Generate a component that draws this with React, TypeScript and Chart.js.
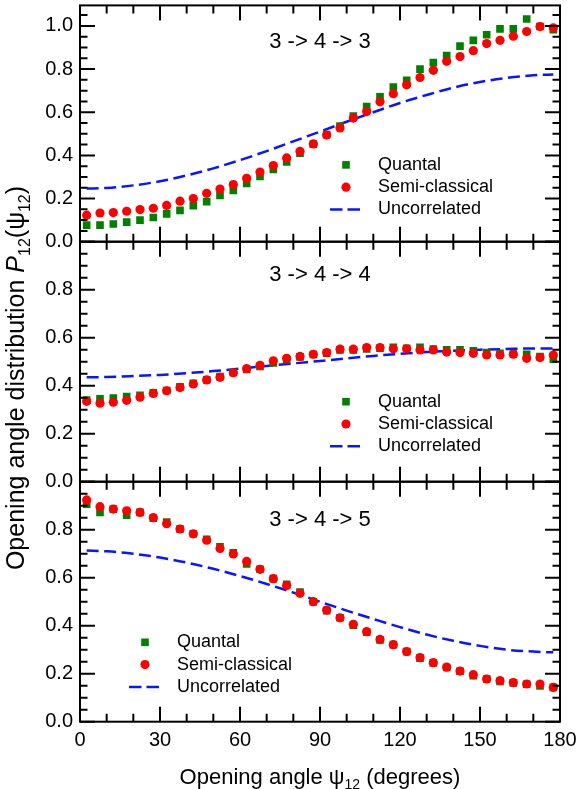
import React, { useEffect, useRef } from "react";
import { Chart, registerables } from "chart.js";

Chart.register(...registerables);

const FONT = "'Liberation Sans', Arial, Helvetica, sans-serif";

// ---------- data ----------
const angles = [
  2.5, 7.5, 12.5, 17.5, 22.5, 27.5, 32.5, 37.5, 42.5, 47.5, 52.5, 57.5,
  62.5, 67.5, 72.5, 77.5, 82.5, 87.5, 92.5, 97.5, 102.5, 107.5, 112.5, 117.5,
  122.5, 127.5, 132.5, 137.5, 142.5, 147.5, 152.5, 157.5, 162.5, 167.5, 172.5, 177.5,
];

const quantal343 = [
  0.077, 0.077, 0.082, 0.091, 0.1, 0.112, 0.129, 0.145, 0.167, 0.186, 0.214, 0.238,
  0.27, 0.302, 0.335, 0.37, 0.41, 0.452, 0.497, 0.536, 0.582, 0.626, 0.671, 0.717,
  0.748, 0.8, 0.83, 0.862, 0.906, 0.933, 0.959, 0.986, 0.986, 1.032, 0.997, 0.982,
];
const semi343 = [
  0.123, 0.133, 0.135, 0.141, 0.149, 0.155, 0.168, 0.188, 0.2, 0.224, 0.244, 0.265,
  0.294, 0.323, 0.353, 0.388, 0.419, 0.453, 0.494, 0.527, 0.573, 0.603, 0.648, 0.686,
  0.727, 0.761, 0.794, 0.836, 0.858, 0.885, 0.918, 0.933, 0.952, 0.974, 0.997, 0.991,
];

const quantal344 = [
  0.34, 0.345, 0.348, 0.355, 0.36, 0.37, 0.38, 0.395, 0.41, 0.425, 0.438, 0.455,
  0.468, 0.48, 0.495, 0.508, 0.52, 0.53, 0.536, 0.549, 0.549, 0.553, 0.556, 0.56,
  0.556, 0.56, 0.553, 0.549, 0.549, 0.545, 0.538, 0.535, 0.532, 0.531, 0.521, 0.511,
];
const semi344 = [
  0.335, 0.327, 0.331, 0.339, 0.352, 0.368, 0.379, 0.392, 0.407, 0.424, 0.435, 0.454,
  0.471, 0.485, 0.504, 0.514, 0.522, 0.531, 0.538, 0.552, 0.552, 0.559, 0.559, 0.554,
  0.554, 0.549, 0.549, 0.54, 0.538, 0.535, 0.528, 0.528, 0.531, 0.514, 0.517, 0.528,
];

const quantal345 = [
  0.906, 0.872, 0.886, 0.86, 0.872, 0.848, 0.832, 0.803, 0.783, 0.76, 0.729, 0.704,
  0.657, 0.635, 0.596, 0.572, 0.54, 0.5, 0.463, 0.433, 0.402, 0.373, 0.341, 0.321,
  0.292, 0.265, 0.245, 0.226, 0.21, 0.192, 0.178, 0.168, 0.162, 0.156, 0.149, 0.143,
];
const semi345 = [
  0.924, 0.896, 0.886, 0.879, 0.872, 0.85, 0.825, 0.803, 0.783, 0.756, 0.722, 0.699,
  0.668, 0.635, 0.596, 0.568, 0.535, 0.5, 0.465, 0.433, 0.406, 0.375, 0.343, 0.321,
  0.292, 0.267, 0.246, 0.227, 0.211, 0.196, 0.178, 0.171, 0.163, 0.157, 0.157, 0.143,
];

const uncorrAngles = [2.5, 10, 20, 30, 40, 50, 60, 70, 80, 90, 100, 110, 120, 130, 140, 150, 160, 170, 177.5];
const uncorr343 = [0.246, 0.249, 0.261, 0.28, 0.307, 0.34, 0.378, 0.42, 0.465, 0.51, 0.556, 0.6, 0.643, 0.68, 0.714, 0.74, 0.759, 0.771, 0.775];
const uncorr344 = [0.435, 0.436, 0.44, 0.445, 0.452, 0.461, 0.471, 0.482, 0.493, 0.503, 0.514, 0.524, 0.533, 0.54, 0.546, 0.55, 0.553, 0.555, 0.555];
const uncorr345 = [0.713, 0.71, 0.7, 0.684, 0.663, 0.637, 0.607, 0.574, 0.538, 0.5, 0.463, 0.428, 0.394, 0.363, 0.337, 0.316, 0.3, 0.292, 0.289];

const xTicks = [0, 10, 20, 30, 40, 50, 60, 70, 80, 90, 100, 110, 120, 130, 140, 150, 160, 170, 180];
const xTickLabels = [0, 30, 60, 90, 120, 150, 180];
const yTicks = [0, 0.05, 0.1, 0.15, 0.2, 0.25, 0.3, 0.35, 0.4, 0.45, 0.5, 0.55, 0.6, 0.65, 0.7, 0.75, 0.8, 0.85, 0.9, 0.95, 1.0, 1.05];
const yTickLabels = [0, 0.2, 0.4, 0.6, 0.8, 1.0];

const panelTitles = ["3 -> 4 -> 3", "3 -> 4 -> 4", "3 -> 4 -> 5"];
const seriesNames = ["Quantal", "Semi-classical", "Uncorrelated"];

// ---------- layout/style ----------
const W = 580;
const H = 789;
const PLOT_LEFT = 80;
const PLOT_RIGHT = 560;
const X_AXIS_H = 30;

const GREEN = "#008000";
const RED = "#ff0000";
const BLUE = "#0a14ff";
const DASH = [12, 5.5];

type Seg = { t: string; sub?: boolean; it?: boolean };

const panels = [
  {
    title: panelTitles[0], q: quantal343, s: semi343, u: uncorr343,
    yMax: 1.095, labelMax: 1.0, top: 1.5, bottom: 241.7,
    titleDy: 36.5, legendDx: 266, legendDy: 159.5, xLabels: false, yTitle: false,
  },
  {
    title: panelTitles[1], q: quantal344, s: semi344, u: uncorr344,
    yMax: 1.0, labelMax: 0.8, top: 241.7, bottom: 481.7,
    titleDy: 33.5, legendDx: 266, legendDy: 160, xLabels: false, yTitle: true,
  },
  {
    title: panelTitles[2], q: quantal345, s: semi345, u: uncorr345,
    yMax: 1.0, labelMax: 0.8, top: 481.7, bottom: 721.7,
    titleDy: 38, legendDx: 65, legendDy: 160.6, xLabels: true, yTitle: false,
  },
];

function segFont(seg: Seg, size: number) {
  const sz = seg.sub ? Math.round(size * 0.64) : size;
  return `${seg.it ? "italic " : ""}${sz}px ${FONT}`;
}

function drawRich(ctx: CanvasRenderingContext2D, segs: Seg[], size: number, cx: number, baseY: number) {
  let w = 0;
  for (const s of segs) {
    ctx.font = segFont(s, size);
    w += ctx.measureText(s.t).width;
  }
  let x = cx - w / 2;
  ctx.textAlign = "left";
  ctx.textBaseline = "alphabetic";
  for (const s of segs) {
    ctx.font = segFont(s, size);
    ctx.fillText(s.t, x, s.sub ? baseY + size * 0.24 : baseY);
    x += ctx.measureText(s.t).width;
  }
}

const decorPlugin = {
  id: "decor",
  afterDatasetsDraw(chart: any, _args: any, opts: any) {
    const p = opts.panel;
    const { ctx, chartArea: a, scales } = chart;
    const xs = scales.x;
    const ys = scales.y;
    ctx.save();
    ctx.strokeStyle = "#000";
    ctx.fillStyle = "#000";
    ctx.lineWidth = 2;
    ctx.setLineDash([]);

    // inward tick marks
    ctx.beginPath();
    for (const v of xTicks) {
      const px = xs.getPixelForValue(v);
      const len = xTickLabels.includes(v) ? 15 : 8;
      ctx.moveTo(px, a.top);
      ctx.lineTo(px, a.top + len);
      ctx.moveTo(px, a.bottom);
      ctx.lineTo(px, a.bottom - len);
    }
    for (const v of yTicks) {
      if (v > p.yMax + 1e-9) continue;
      const py = ys.getPixelForValue(v);
      const major = yTickLabels.some((t) => Math.abs(t - v) < 1e-6);
      const len = major ? 15 : 7.5;
      ctx.moveTo(a.left, py);
      ctx.lineTo(a.left + len, py);
      ctx.moveTo(a.right, py);
      ctx.lineTo(a.right - len, py);
    }
    ctx.stroke();

    // frame
    ctx.strokeRect(a.left, a.top, a.right - a.left, a.bottom - a.top);

    // panel title
    ctx.font = `22px ${FONT}`;
    ctx.textAlign = "center";
    ctx.textBaseline = "middle";
    ctx.fillText(p.title, (a.left + a.right) / 2, a.top + p.titleDy);

    // legend
    const ds = chart.data.datasets;
    const mx = a.left + p.legendDx;
    const tx = mx + 32;
    const rows = [p.legendDy, p.legendDy + 22.3, p.legendDy + 44.6].map((d) => a.top + d);
    // Quantal square
    ctx.fillStyle = ds[1].backgroundColor;
    ctx.fillRect(mx - 3.8, rows[0] - 3.8, 7.6, 7.6);
    // Semi-classical circle
    ctx.fillStyle = ds[0].backgroundColor;
    ctx.beginPath();
    ctx.arc(mx, rows[1], 4.6, 0, Math.PI * 2);
    ctx.fill();
    // Uncorrelated dash
    ctx.strokeStyle = ds[2].borderColor;
    ctx.lineWidth = ds[2].borderWidth;
    ctx.setLineDash([12.5, 5]);
    ctx.beginPath();
    ctx.moveTo(mx - 16, rows[2]);
    ctx.lineTo(mx + 15, rows[2]);
    ctx.stroke();
    ctx.setLineDash([]);

    ctx.fillStyle = "#000";
    ctx.font = `18px ${FONT}`;
    ctx.textAlign = "left";
    ctx.textBaseline = "middle";
    ctx.fillText(seriesNames[0], tx, rows[0]);
    ctx.fillText(seriesNames[1], tx, rows[1]);
    ctx.fillText(seriesNames[2], tx, rows[2]);

    // axis titles
    if (p.xLabels) {
      drawRich(
        ctx,
        [{ t: "Opening angle " }, { t: "ψ" }, { t: "12", sub: true }, { t: " (degrees)" }],
        22,
        (a.left + a.right) / 2,
        784
      );
    }
    if (p.yTitle) {
      ctx.save();
      ctx.translate(24, 378);
      ctx.rotate(-Math.PI / 2);
      drawRich(
        ctx,
        [
          { t: "Opening angle distribution " },
          { t: "P", it: true },
          { t: "12", sub: true },
          { t: "(ψ" },
          { t: "12", sub: true },
          { t: ")" },
        ],
        25,
        0,
        0
      );
      ctx.restore();
    }
    ctx.restore();
  },
};

function Panel({ p }: { p: (typeof panels)[number] }) {
  const ref = useRef<HTMLCanvasElement | null>(null);
  useEffect(() => {
    if (!ref.current) return;
    const xAxisH = p.xLabels ? X_AXIS_H : 0;
    const chart = new Chart(ref.current, {
      type: "scatter",
      data: {
        datasets: [
          {
            label: seriesNames[1],
            data: angles.map((x, i) => ({ x, y: p.s[i] })),
            pointStyle: "circle",
            pointRadius: 4.6,
            backgroundColor: RED,
            borderColor: RED,
            borderWidth: 0,
            showLine: false,
            order: 0,
          },
          {
            label: seriesNames[0],
            data: angles.map((x, i) => ({ x, y: p.q[i] })),
            pointStyle: "rect",
            pointRadius: 5.4,
            backgroundColor: GREEN,
            borderColor: GREEN,
            borderWidth: 0,
            showLine: false,
            order: 1,
          },
          {
            label: seriesNames[2],
            data: uncorrAngles.map((x, i) => ({ x, y: p.u[i] })),
            showLine: true,
            pointRadius: 0,
            borderColor: BLUE,
            backgroundColor: BLUE,
            borderWidth: 2.5,
            borderDash: DASH,
            cubicInterpolationMode: "monotone",
            fill: false,
            order: 2,
          } as any,
        ],
      },
      options: {
        animation: false,
        responsive: false,
        devicePixelRatio: 1,
        layout: {
          padding: {
            left: 0,
            right: W - PLOT_RIGHT,
            top: p.top,
            bottom: H - p.bottom - xAxisH,
          },
        },
        plugins: {
          legend: { display: false },
          tooltip: { enabled: false },
          decor: { panel: p },
        } as any,
        scales: {
          x: {
            type: "linear",
            min: 0,
            max: 180,
            position: "bottom",
            afterFit: (s: any) => {
              s.height = xAxisH;
              s.paddingLeft = 0;
              s.paddingRight = 0;
            },
            grid: { display: false, drawTicks: false },
            border: { display: false },
            ticks: {
              display: p.xLabels,
              stepSize: 30,
              autoSkip: false,
              maxRotation: 0,
              padding: 7,
              color: "#000",
              font: { family: FONT, size: 20 },
              callback: (v: any) => (xTickLabels.includes(Number(v)) ? String(v) : null),
            },
          },
          y: {
            type: "linear",
            min: 0,
            max: p.yMax,
            afterFit: (s: any) => {
              s.width = PLOT_LEFT;
              s.paddingTop = 0;
              s.paddingBottom = 0;
            },
            grid: { display: false, drawTicks: false },
            border: { display: false },
            ticks: {
              stepSize: 0.2,
              includeBounds: false,
              autoSkip: false,
              padding: 7,
              color: "#000",
              font: { family: FONT, size: 20 },
              callback: (v: any) => {
                const n = Number(v);
                const t = yTickLabels.find((l) => Math.abs(l - n) < 1e-6);
                return t !== undefined && t <= p.labelMax + 1e-9 ? t.toFixed(1) : null;
              },
            },
          },
        },
      } as any,
      plugins: [decorPlugin],
    });
    return () => chart.destroy();
  }, [p]);
  return (
    <canvas
      ref={ref}
      width={W}
      height={H}
      style={{ position: "absolute", left: 0, top: 0, width: W, height: H }}
    />
  );
}

export default function App() {
  return (
    <div
      style={{
        position: "absolute",
        left: 0,
        top: 0,
        width: W,
        height: H,
        background: "#fff",
        overflow: "hidden",
      }}
    >
      {panels.map((p, i) => (
        <Panel key={i} p={p} />
      ))}
    </div>
  );
}
